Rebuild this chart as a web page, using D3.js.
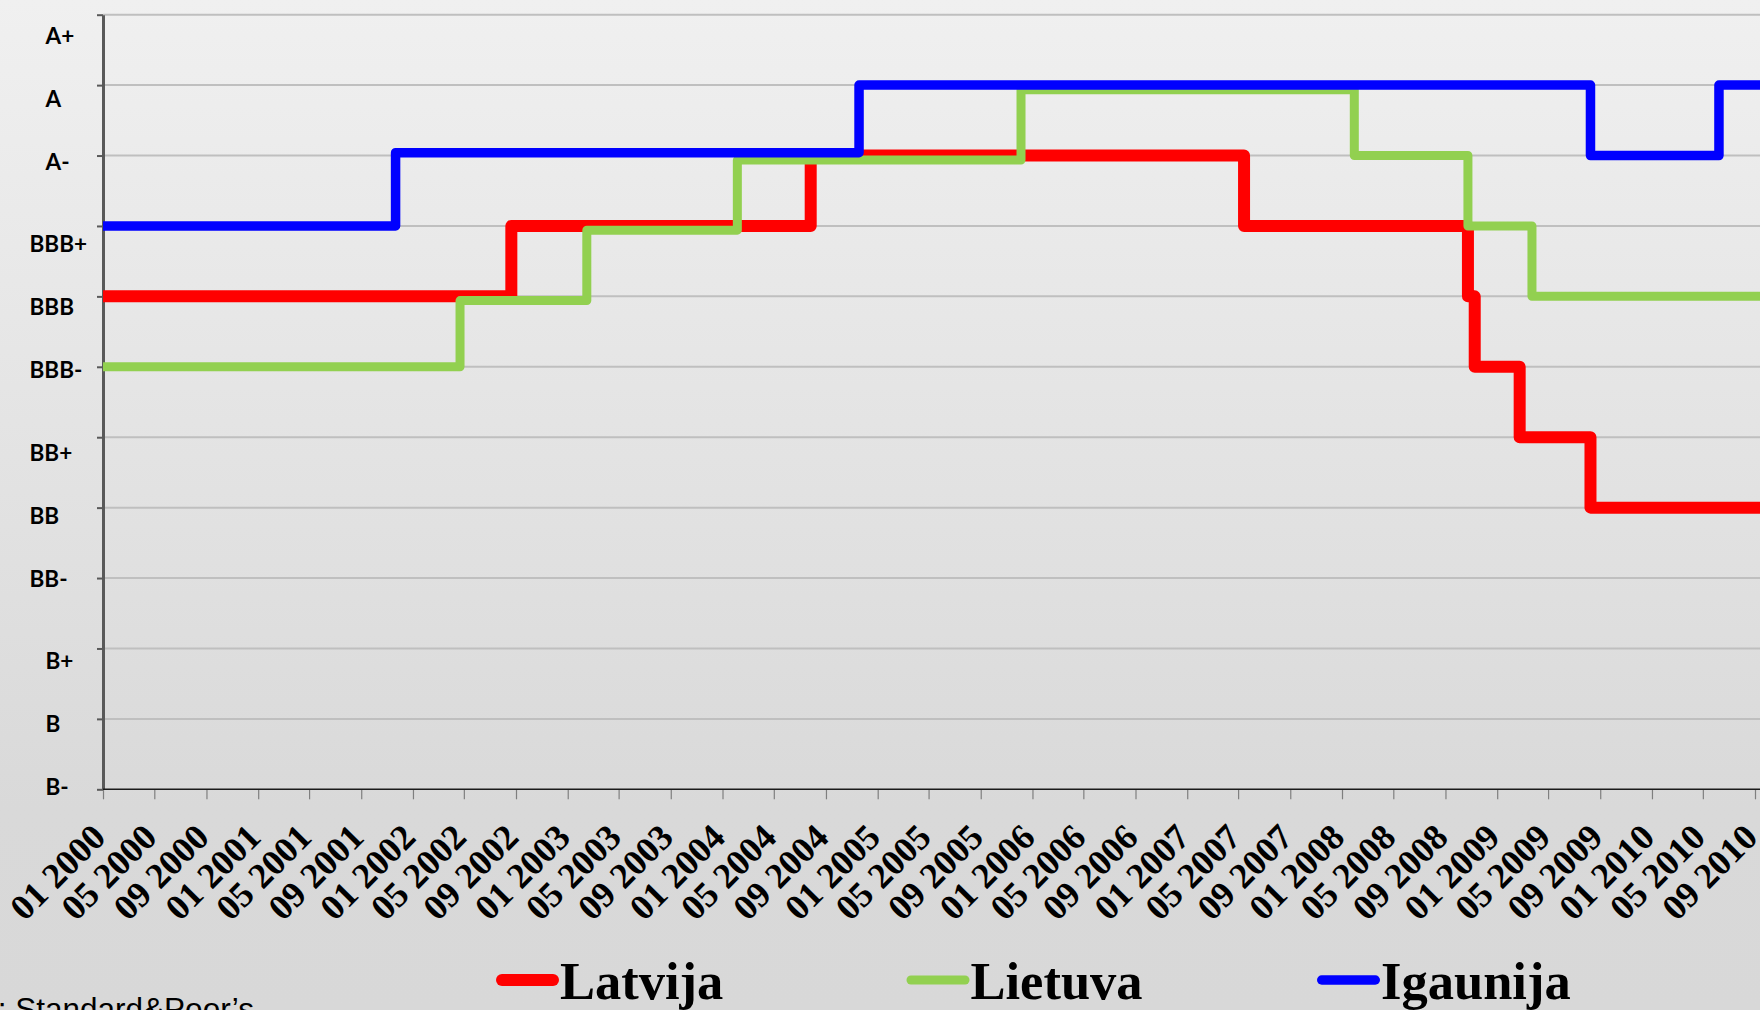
<!DOCTYPE html>
<html>
<head>
<meta charset="utf-8">
<script src="https://cdn.jsdelivr.net/npm/d3@7"></script>
<style>
  body { margin: 0; overflow: hidden; background: #d9d9d9; }
  svg { display: block; }
</style>
</head>
<body>
<script>
// rating notches, best on top
var ratings = ["A+", "A", "A-", "BBB+", "BBB", "BBB-", "BB+", "BB", "BB-", "B+", "B", "B-"];

// level = notch counted up from B- (0) to A+ (11), as plotted in the source
var latvijaDates  = ["2000-01-01", "2002-08-21", "2004-07-27", "2007-05-15", "2008-10-24", "2008-11-09", "2009-02-23", "2009-08-09", "2010-11-01"];
var latvijaLevels = [7, 8, 9, 8, 7, 6, 5, 4, 4];

var lietuvaDates  = ["2000-01-01", "2002-04-22", "2003-02-15", "2004-02-05", "2005-12-05", "2008-01-30", "2008-10-24", "2009-03-24", "2010-11-01"];
var lietuvaLevels = [6, 6.94, 7.94, 8.935, 9.935, 9, 8, 7, 7];

var igaunijaDates  = ["2000-01-01", "2001-11-21", "2004-11-18", "2009-08-09", "2010-06-08", "2010-11-01"];
var igaunijaLevels = [8, 9.04, 10, 9, 10, 10];

var seriesNames = ["Latvija", "Lietuva", "Igaunija"];
var axisStart = "2000-01-01", axisEnd = "2010-09-01";
var sourceText = "Avots: Standard&Poor\u2019s";

var W = 1760, H = 1010;
var colors = ["#ff0000", "#92d050", "#0000ff"],
    widths = [12, 9, 9.5];

var parse = d3.timeParse("%Y-%m-%d");

var series = [
  {name: seriesNames[0], dates: latvijaDates, levels: latvijaLevels},
  {name: seriesNames[1], dates: lietuvaDates, levels: lietuvaLevels},
  {name: seriesNames[2], dates: igaunijaDates, levels: igaunijaLevels}
].map(function (s, i) {
  s.color = colors[i];
  s.width = widths[i];
  s.points = s.dates.map(function (d, j) { return {date: parse(d), level: s.levels[j]}; });
  return s;
});

var x = d3.scaleTime()
    .domain([parse(axisStart), parse(axisEnd)])
    .range([103, 1755]);
var y = d3.scaleLinear()
    .domain([0, ratings.length - 1])
    .range([789.3, 14.7]);
// the rating labels are four 3-line text blocks (A, BBB, BB, B), not tied to the gridlines
var groupY = d3.scalePoint()
    .domain([0, 1, 2, 3])
    .range([36, 661]);
function labelY(i) { return groupY(Math.floor(i / 3)) + (i % 3) * 63; }

var svg = d3.select("body").append("svg")
    .attr("width", W)
    .attr("height", H);

var grad = svg.append("defs").append("linearGradient")
    .attr("id", "bg")
    .attr("x1", 0).attr("y1", 0).attr("x2", 0).attr("y2", 1);
grad.append("stop").attr("offset", "0%").attr("stop-color", "#f0f0f0");
grad.append("stop").attr("offset", "80%").attr("stop-color", "#d9d9d9");
grad.append("stop").attr("offset", "100%").attr("stop-color", "#d8d8d8");

svg.append("rect")
    .attr("width", W)
    .attr("height", H)
    .attr("fill", "url(#bg)");

//gridlines
svg.append("g").selectAll("line")
    .data(d3.range(1, ratings.length))
    .join("line")
    .attr("x1", x.range()[0])
    .attr("x2", W)
    .attr("y1", function (d) { return y(d); })
    .attr("y2", function (d) { return y(d); })
    .attr("stroke", "#bfbfbf")
    .attr("stroke-width", 2);

//y axis
var yAxis = svg.append("g")
    .attr("transform", "translate(" + x.range()[0] + ",0)")
    .call(d3.axisLeft(y)
      .tickValues(d3.range(0, ratings.length))
      .tickSize(6)
      .tickSizeOuter(0)
      .tickFormat(""));
yAxis.select(".domain").attr("stroke", "#595959").attr("stroke-width", 3);
yAxis.selectAll(".tick line").attr("stroke", "#595959").attr("stroke-width", 2);

svg.append("g").selectAll("text")
    .data(ratings)
    .join("text")
    .attr("x", function (d) { return d.indexOf("BB") === 0 ? 29.5 : 45.5; })
    .attr("y", function (d, i) { return labelY(i); })
    .attr("dy", "0.36em")
    .attr("font-family", "Lato, 'Open Sans', sans-serif")
    .attr("font-weight", "bold")
    .attr("font-size", 22.5)
    .attr("fill", "#000")
    .text(function (d) { return d; });

//x axis
var ticks = d3.timeMonth.every(4).range(parse(axisStart), d3.timeDay.offset(parse(axisEnd), 1));
var xAxis = svg.append("g")
    .attr("transform", "translate(0," + y(0) + ")")
    .call(d3.axisBottom(x)
      .tickValues(ticks)
      .tickSize(10)
      .tickSizeOuter(0)
      .tickFormat(d3.timeFormat("%m %Y")));
xAxis.select(".domain").remove();
xAxis.selectAll(".tick line").attr("stroke", "#7f7f7f").attr("stroke-width", 1.2);
xAxis.selectAll(".tick text")
    .attr("x", null)
    .attr("y", null)
    .attr("dy", null)
    .attr("text-anchor", "end")
    .attr("transform", "translate(4,50) rotate(-45)")
    .attr("font-family", "'Liberation Serif', 'Times New Roman', serif")
    .attr("font-weight", "bold")
    .attr("font-size", 36)
    .attr("fill", "#000");
xAxis.append("line")
    .attr("x1", x.range()[0])
    .attr("x2", W)
    .attr("stroke", "#1a1a1a")
    .attr("stroke-width", 1.5);

//rating lines
var line = d3.line()
    .x(function (d) { return x(d.date); })
    .y(function (d) { return y(d.level); })
    .curve(d3.curveStepAfter);

svg.append("g").selectAll("path")
    .data(series)
    .join("path")
    .attr("d", function (d) { return line(d.points); })
    .attr("fill", "none")
    .attr("stroke", function (d) { return d.color; })
    .attr("stroke-width", function (d) { return d.width; })
    .attr("stroke-linejoin", "round");

//legend, evenly spaced items
var legend = svg.append("g").selectAll("g")
    .data(series)
    .join("g")
    .attr("transform", function (d, i) { return "translate(" + (496 + i * 410.5) + ",0)"; });

legend.append("line")
    .attr("x1", function (d) { return d.width / 2; })
    .attr("x2", function (d) { return 63 - d.width / 2; })
    .attr("y1", 980)
    .attr("y2", 980)
    .attr("stroke", function (d) { return d.color; })
    .attr("stroke-width", function (d) { return d.width; })
    .attr("stroke-linecap", "round");

legend.append("text")
    .attr("x", 64)
    .attr("y", 999)
    .attr("font-family", "'Liberation Serif', 'Times New Roman', serif")
    .attr("font-weight", "bold")
    .attr("font-size", 52.5)
    .attr("fill", "#000")
    .text(function (d) { return d.name; });

//source note, cut by the lower edge as in the slide
svg.append("text")
    .attr("x", 254)
    .attr("y", 1020)
    .attr("text-anchor", "end")
    .attr("font-family", "'Liberation Sans', Arial, sans-serif")
    .attr("font-size", 31.5)
    .attr("fill", "#000")
    .text(sourceText);
</script>
</body>
</html>
